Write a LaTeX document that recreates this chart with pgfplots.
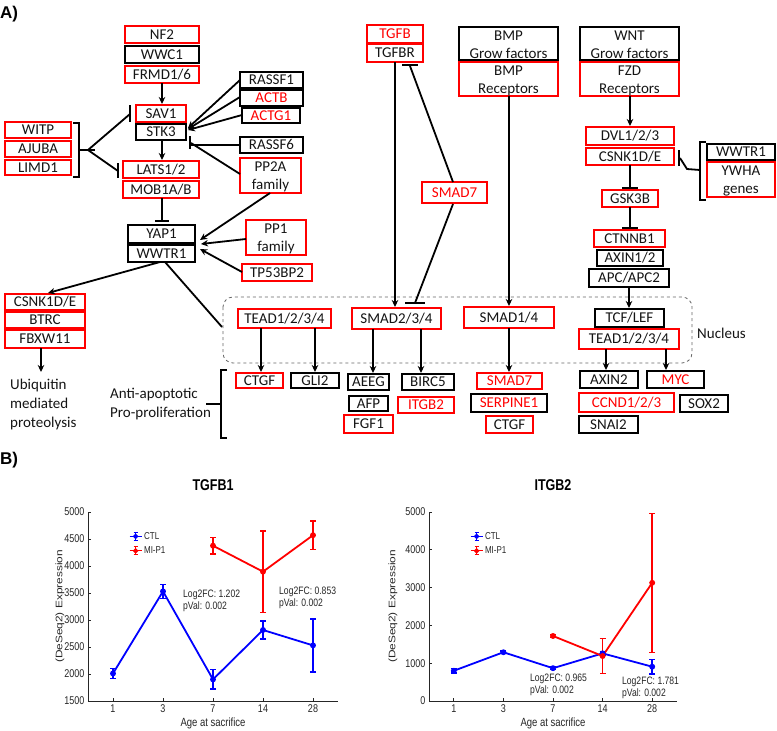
\documentclass[border=0pt]{standalone}
\usepackage{pgfplots}
\pgfplotsset{compat=1.18}
\usepackage{graphicx}
\usepackage{fontspec}
\setmainfont{Carlito}
\newfontfamily\cf{Liberation Sans}
\usetikzlibrary{arrows.meta}
\definecolor{tx}{gray}{0.08}
\definecolor{ax}{gray}{0.15}
\newcommand{\bxf}{\fontsize{15}{18}\selectfont}
\newcommand{\vs}[1]{\scalebox{1}[1.25]{#1}}
\newcommand{\bx}[7]{%
  \draw[#5,line width=2pt] (#1,#2) rectangle (#3,#4);
  \node[text=#6,font=\bxf,inner sep=0pt,anchor=base] at ({(#1+#3)/2},{(#2+#4)/2+4.8}) {#7};}
\newcommand{\bxx}[8]{%
  \draw[#5,line width=2pt] (#1,#2) rectangle (#3,#4);
  \node[text=#6,font=\bxf,inner sep=0pt,anchor=base] at ({(#1+#3)/2},{#2+13.5}) {#7};
  \node[text=#6,font=\bxf,inner sep=0pt,anchor=base] at ({(#1+#3)/2},{#2+31.5}) {#8};}
\newcommand{\errleg}[1]{%
  \draw[#1,line width=0.9pt] (0pt,0pt)--(12pt,0pt);
  \draw[#1,line width=0.9pt] (6pt,-4pt)--(6pt,4pt) (4pt,4pt)--(8pt,4pt) (4pt,-4pt)--(8pt,-4pt);
  \fill[#1] (6pt,0pt) circle (1.6pt);}
\pgfplotsset{mychart/.style={
  scale only axis, height=189pt,
  axis lines*=left, axis line style={-,line width=0.9pt,color=ax},
  tick style={line width=0.8pt,color=ax}, tick align=inside, major tick length=3pt,
  xmin=-0.5, xmax=4.5, xtick={0,...,4},
  xticklabels={\vs{1},\vs{3},\vs{7},\vs{14},\vs{28}},
  /pgf/number format/assume math mode=true,
  /pgf/number format/1000 sep={},
  yticklabel={\vs{\pgfmathprintnumber{\tick}}},
  ticklabel style={font=\cf\fontsize{9}{10}\selectfont, text=ax},
  xlabel={\vs{Age at sacrifice}},
  xlabel style={font=\cf\fontsize{9.5}{11}\selectfont, text=ax, at={(axis description cs:0.5,0)}, anchor=center, yshift=-22pt},
  ylabel={\scalebox{1.25}[1]{(DeSeq2) Expression}},
  ylabel style={font=\cf\fontsize{9.5}{11}\selectfont, text=ax, anchor=center},
  title style={font=\cf\bfseries\fontsize{12.5}{14}\selectfont, at={(axis description cs:0.5,1)}, anchor=base, yshift=16pt},
  legend style={draw=none, fill=none, anchor=north west, font=\cf\fontsize{8}{9}\selectfont, text=ax, inner sep=0pt, row sep=2pt},
  legend cell align=left,
  clip=false,
}}
\pgfplotsset{ctl/.style={blue, line width=1.8pt, mark=*, mark size=2pt, legend image code/.code={\errleg{blue}},
  error bars/.cd, y dir=both, y explicit, error bar style={line width=1.4pt}, error mark options={rotate=90, line width=1.4pt, mark size=3pt}},
  mip/.style={red, line width=1.8pt, mark=*, mark size=2pt, legend image code/.code={\errleg{red}},
  error bars/.cd, y dir=both, y explicit, error bar style={line width=1.4pt}, error mark options={rotate=90, line width=1.4pt, mark size=3pt}}}
\begin{document}
\begin{tikzpicture}
\useasboundingbox (0,0) rectangle (777pt,-731pt);
\begin{scope}[x=1pt,y=-1pt, arr/.style={-{Stealth[length=7pt,width=6.5pt]}, line width=1.8pt, black}, ln/.style={line width=1.8pt, black}, br/.style={line width=2pt, black}]
% labels
\node[anchor=base west, inner sep=0pt, font=\cf\bfseries\fontsize{17}{18}\selectfont] at (0,18) {A)};
\node[anchor=base west, inner sep=0pt, font=\cf\bfseries\fontsize{17}{18}\selectfont] at (0,464) {B)};
% Hippo
\bx{125}{26}{199}{43}{red}{tx}{NF2}
\bx{125}{46}{199}{63}{black}{tx}{WWC1}
\bx{125}{66}{199}{83}{red}{tx}{FRMD1/6}
\bx{136}{105}{186}{122}{red}{tx}{SAV1}
\bx{136}{124}{186}{140}{black}{tx}{STK3}
\bx{123}{161}{199}{178}{red}{tx}{LATS1/2}
\bx{123}{181}{199}{198}{red}{tx}{MOB1A/B}
\bx{128}{225}{195}{243}{black}{tx}{YAP1}
\bx{128}{245}{195}{262}{black}{tx}{WWTR1}
\bx{240}{72}{303}{88}{black}{tx}{RASSF1}
\bx{240}{90}{303}{106}{black}{red}{ACTB}
\bx{242}{108}{300}{123}{black}{red}{ACTG1}
\bx{240}{137}{303}{153}{black}{tx}{RASSF6}
\bxx{240}{158}{301}{193}{red}{tx}{PP2A}{family}
\bx{5}{122}{71}{138}{red}{tx}{WITP}
\bx{5}{141}{71}{157}{red}{tx}{AJUBA}
\bx{5}{160}{71}{175}{red}{tx}{LIMD1}
\bxx{246}{220}{306}{255}{red}{tx}{PP1}{family}
\bx{242}{264}{312}{281}{red}{tx}{TP53BP2}
\bx{5}{294}{85}{310}{red}{tx}{CSNK1D/E}
\bx{5}{312}{85}{328}{red}{tx}{BTRC}
\bx{5}{330}{85}{348}{red}{tx}{FBXW11}
\draw[arr] (162,83)--(162,104);
\draw[arr] (162,140)--(162,160);
\draw[ln] (162,198)--(162,221); \draw[br] (155,221)--(169,221);
\draw[ln] (73,123)--(79,123)--(79,177)--(73,177);
\draw[ln] (79,150)--(95,150);
\draw[ln] (88,150)--(130,114); \draw[br] (130,105)--(130,122);
\draw[ln] (88,150)--(118,171); \draw[br] (118,163)--(118,178);
\draw[arr] (240,80)--(188,128);
\draw[arr] (240,97)--(188,129);
\draw[arr] (242,115)--(188,130);
\draw[ln] (240,145)--(190,145); \draw[br] (190,136)--(190,149);
\draw[ln] (240,174)--(191,143);
\draw[arr] (270,193)--(200,240);
\draw[arr] (246,239)--(201,244);
\draw[arr] (242,272)--(200,249);
\draw[arr] (160,262)--(48,293);
\draw[ln] (165,262)--(222,327);
\draw[arr] (41,348)--(41,372);
\node[anchor=west, align=left, inner sep=0pt, font=\fontsize{15}{19}\selectfont, text=tx] at (10,404) {Ubiquitin\\mediated\\proteolysis};
% nucleus
\draw[dashed, gray!80!black, line width=0.8pt, rounded corners=10pt] (223,297) rectangle (692,363);
\node[anchor=west, inner sep=0pt, font=\bxf, text=tx] at (697,333) {Nucleus};
\bx{238}{309}{331}{328}{red}{tx}{TEAD1/2/3/4}
\bx{352}{308}{441}{329}{red}{tx}{SMAD2/3/4}
\bx{464}{307}{554}{328}{red}{tx}{SMAD1/4}
\bx{595}{309}{664}{327}{black}{tx}{TCF/LEF}
\bx{579}{329}{679}{349}{red}{tx}{TEAD1/2/3/4}
% targets
\bx{236}{373}{283}{388}{red}{tx}{CTGF}
\bx{291}{373}{339}{388}{black}{tx}{GLI2}
\bx{348}{374}{389}{390}{black}{tx}{AEEG}
\bx{349}{396}{388}{411}{black}{tx}{AFP}
\bx{344}{415}{393}{433}{red}{tx}{FGF1}
\bx{402}{374}{454}{390}{black}{tx}{BIRC5}
\bx{398}{397}{454}{413}{red}{red}{ITGB2}
\bx{477}{373}{542}{389}{red}{red}{SMAD7}
\bx{471}{394}{547}{412}{black}{red}{SERPINE1}
\bx{486}{416}{533}{433}{red}{tx}{CTGF}
\bx{580}{371}{638}{388}{black}{tx}{AXIN2}
\bx{647}{371}{704}{388}{black}{red}{MYC}
\bx{579}{393}{674}{412}{red}{red}{CCND1/2/3}
\bx{680}{395}{728}{412}{black}{tx}{SOX2}
\bx{579}{416}{638}{433}{black}{tx}{SNAI2}
\draw[arr] (261,328)--(261,372);
\draw[arr] (315,328)--(315,372);
\draw[arr] (373,329)--(373,373);
\draw[arr] (421,329)--(421,373);
\draw[arr] (509,328)--(509,372);
\draw[arr] (606,349)--(606,370);
\draw[arr] (666,349)--(666,370);
\node[anchor=west, align=left, inner sep=0pt, font=\fontsize{15}{19}\selectfont, text=tx] at (110,404) {Anti-apoptotic\\Pro-proliferation};
\draw[ln] (227,370)--(221,370)--(221,438)--(227,438);
\draw[ln] (206,404)--(221,404);
% TGFB
\bx{367}{25}{423}{43}{red}{red}{TGFB}
\bx{367}{44}{423}{62}{red}{tx}{TGFBR}
\bx{422}{182}{487}{203}{red}{red}{SMAD7}
\draw[arr] (395,62)--(395,307);
\draw[ln] (453,182)--(410,66); \draw[br] (402,65)--(418,65);
\draw[ln] (453,204)--(415,303); \draw[br] (405,303)--(425,303);
% BMP
\bxx{459}{27}{558}{60}{black}{tx}{BMP}{Grow factors}
\bxx{459}{62}{558}{96}{red}{tx}{BMP}{Receptors}
\draw[arr] (509,96)--(509,306);
% WNT
\bxx{580}{27}{679}{60}{black}{tx}{WNT}{Grow factors}
\bxx{580}{62}{679}{96}{red}{tx}{FZD}{Receptors}
\draw[arr] (630,96)--(630,126);
\bx{586}{127}{674}{145}{red}{tx}{DVL1/2/3}
\bx{586}{148}{674}{165}{red}{tx}{CSNK1D/E}
\bx{602}{190}{658}{207}{red}{tx}{GSK3B}
\bx{594}{230}{665}{247}{red}{tx}{CTNNB1}
\bx{597}{250}{663}{266}{black}{tx}{AXIN1/2}
\bx{589}{269}{669}{287}{black}{tx}{APC/APC2}
\draw[ln] (630,165)--(630,188); \draw[br] (622,188)--(638,188);
\draw[ln] (630,207)--(630,228); \draw[br] (622,228)--(638,228);
\draw[arr] (629,287)--(629,308);
\bx{707}{144}{775}{160}{black}{tx}{WWTR1}
\bxx{707}{162}{775}{197}{red}{tx}{YWHA}{genes}
\draw[ln] (706,142)--(700,142)--(700,200)--(706,200);
\draw[ln] (700,170)--(687,169)--(680,158); \draw[br] (679,150)--(679,166);
\end{scope}
% ---- charts ----
\begin{axis}[mychart, at={(88pt,-701pt)}, anchor=south west, width=250pt,
  ymin=1500, ymax=5000, ytick={1500,2000,...,5000},
  title={\vs{TGFB1}},
  ylabel style={at={(axis description cs:-0.112,0.5)}},
  legend style={at={(axis description cs:0.164,0.905)}}]
\addplot[ctl] table[x=x,y=y,y error=e]{
x y e
0 2010 95
1 3530 130
2 1900 180
3 2815 165
4 2530 490
};
\addlegendentry{\vs{CTL}}
\addplot[mip] table[x=x,y=y,y error=e]{
x y e
2 4376 155
3 3895 755
4 4570 262
};
\addlegendentry{\vs{MI-P1}}
\node[anchor=north west, inner sep=0pt, align=left, font=\cf\fontsize{8.6}{12}\selectfont, text=ax] at (axis description cs:0.38,0.587) {\vs{Log2FC: 1.202}\\\vs{pVal: 0.002}};
\node[anchor=north west, inner sep=0pt, align=left, font=\cf\fontsize{8.6}{12}\selectfont, text=ax] at (axis description cs:0.764,0.603) {\vs{Log2FC: 0.853}\\\vs{pVal: 0.002}};
\end{axis}
\begin{axis}[mychart, at={(429pt,-701pt)}, anchor=south west, width=248pt,
  ymin=0, ymax=5000, ytick={0,1000,...,5000},
  title={\vs{ITGB2}},
  ylabel style={at={(axis description cs:-0.145,0.5)}},
  legend style={at={(axis description cs:0.165,0.905)}}]
\addplot[ctl] table[x=x,y=y,y error=e]{
x y e
0 800 60
1 1290 35
2 868 35
3 1260 55
4 908 195
};
\addlegendentry{\vs{CTL}}
\addplot[mip] table[x=x,y=y,y error=e]{
x y e
2 1720 35
3 1190 470
4 3127 1840
};
\addlegendentry{\vs{MI-P1}}
\node[anchor=north west, inner sep=0pt, align=left, font=\cf\fontsize{8.6}{12}\selectfont, text=ax] at (axis description cs:0.407,0.143) {\vs{Log2FC: 0.965}\\\vs{pVal: 0.002}};
\node[anchor=north west, inner sep=0pt, align=left, font=\cf\fontsize{8.6}{12}\selectfont, text=ax] at (axis description cs:0.778,0.127) {\vs{Log2FC: 1.781}\\\vs{pVal: 0.002}};
\end{axis}
\end{tikzpicture}
\end{document}
